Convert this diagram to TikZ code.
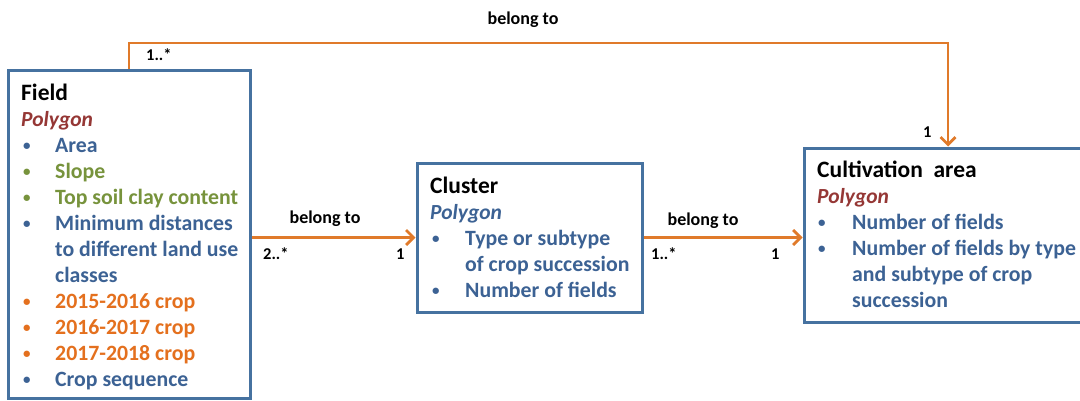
\documentclass[tikz,border=0pt]{standalone}
\usepackage{fontspec}
\setmainfont{Carlito}
\usetikzlibrary{arrows.meta}
\definecolor{boxblue}{RGB}{70,114,160}
\definecolor{txtblue}{RGB}{60,98,148}
\definecolor{txtgreen}{RGB}{119,147,60}
\definecolor{txtorange}{RGB}{228,112,30}
\definecolor{arrorange}{RGB}{224,122,42}
\definecolor{polyred}{RGB}{149,55,53}
\tikzset{
  classbox/.style={draw=boxblue, line width=3pt, rectangle, inner sep=0pt, fill=white},
  title/.style={anchor=base west, inner sep=0pt, font=\bfseries\fontsize{23.5}{26}\selectfont, text=black},
  poly/.style={anchor=base west, inner sep=0pt, font=\bfseries\itshape\fontsize{21.5}{25}\selectfont},
  item/.style={anchor=base west, inner sep=0pt, font=\bfseries\fontsize{21.8}{25}\selectfont},
  bul/.style={anchor=base west, inner sep=0pt, yshift=2pt, font=\bfseries\fontsize{15}{18}\selectfont},
  rel/.style={anchor=base, inner sep=0pt, font=\bfseries\fontsize{18}{20}\selectfont, text=black},
  mult/.style={anchor=base west, inner sep=0pt, font=\bfseries\fontsize{16.5}{18}\selectfont, text=black},
  conn/.style={draw=arrorange, line width=2.8pt, -{Straight Barb[length=7.5pt,width=15pt]}},
}
\begin{document}
\begin{tikzpicture}[x=1pt,y=-1pt]
\useasboundingbox (0,0) rectangle (1080,400);
\fill[white] (0,0) rectangle (1080,400);
% boxes
\node[classbox, minimum width=242pt, minimum height=328pt] (field) at (129,234) {};
\node[classbox, minimum width=225pt, minimum height=149pt] (cluster) at (529.5,237.5) {};
\node[classbox, minimum width=288pt, minimum height=174pt] (cult) at (948,235) {};
% Field text
\node[title] (ftitle) at (21,100) {Field};
\node[poly, text=polyred] (fpoly) at (21,126) {Polygon};
\foreach \y/\c/\t [count=\i] in {152/txtblue/Area, 178/txtgreen/Slope, 204/txtgreen/Top soil clay content, 230/txtblue/Minimum distances, 308/txtorange/2015-2016 crop, 334/txtorange/2016-2017 crop, 360/txtorange/2017-2018 crop, 386/txtblue/Crop sequence}{
  \node[bul, text=\c] (fb\i) at (23,\y) {•};
  \node[item, text=\c] (fi\i) at (55,\y) {\t};
}
\node[item, text=txtblue] (fi4b) at (55,256) {to different land use};
\node[item, text=txtblue] (fi4c) at (55,282) {classes};
% Cluster text
\node[title] (ctitle) at (430,193) {Cluster};
\node[poly, text=txtblue] (cpoly) at (430,219) {Polygon};
\node[bul, text=txtblue] (cb1) at (432,245) {•};
\node[item, text=txtblue] (ci1) at (465,245) {Type or subtype};
\node[item, text=txtblue] (ci1b) at (465,271) {of crop succession};
\node[bul, text=txtblue] (cb2) at (432,297) {•};
\node[item, text=txtblue] (ci2) at (465,297) {Number of fields};
% Cultivation text
\node[title] (atitle) at (817,177) {Cultivation\ \ area};
\node[poly, text=polyred] (apoly) at (817,203) {Polygon};
\node[bul, text=txtblue] (ab1) at (818,229) {•};
\node[item, text=txtblue] (ai1) at (852,229) {Number of fields};
\node[bul, text=txtblue] (ab2) at (818,255) {•};
\node[item, text=txtblue] (ai2) at (852,255) {Number of fields by type};
\node[item, text=txtblue] (ai2b) at (852,281) {and subtype of crop};
\node[item, text=txtblue] (ai2c) at (852,307) {succession};
% connectors
\coordinate (c1) at (129,43);
\coordinate (c2) at (948,43);
\draw[conn] (field.north) -- (field.north |- c1) -- (cult.north |- c2) -- (cult.north);
\draw[conn] (cluster.west -| field.east) -- (cluster.west);
\draw[conn] (cluster.east) -- (cluster.east -| cult.west);
% labels
\node[rel] (l1) at (523,24) {belong to};
\node[mult] (m1) at (146,60) {1..*};
\node[mult] (m2) at (923,137) {1};
\node[rel] (l2) at (325,223) {belong to};
\node[mult] (m3) at (263,259) {2..*};
\node[mult] (m4) at (396,259) {1};
\node[rel] (l3) at (703,225) {belong to};
\node[mult] (m5) at (651,259) {1..*};
\node[mult] (m6) at (771,259) {1};
\end{tikzpicture}
\end{document}
